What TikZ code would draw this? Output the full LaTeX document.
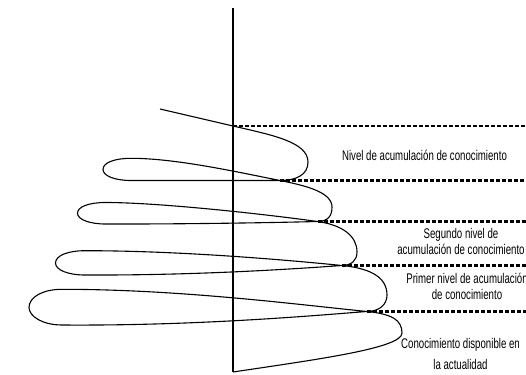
\documentclass[tikz,border=0pt]{standalone}
\usepackage{fontspec}
\setmainfont{Liberation Sans}[FakeStretch=0.69]
\begin{document}
\begin{tikzpicture}[x=1pt,y=-1pt,
  axisline/.style={line width=1.3pt},
  spiral/.style={line width=1.1pt, line join=round},
  levelline/.style={line width=2.2pt, dash pattern=on 4pt off 2pt},
  lbl/.style={inner sep=0pt, align=center, font=\fontsize{14}{16}\selectfont}]
\useasboundingbox (0,0) rectangle (526,374);

% vertical axis
\coordinate (axtop) at (233,8);
\coordinate (axbot) at (233,372);
\draw[axisline] (axtop) -- (axbot);

% start of the spiral and the points where it crosses itself
\coordinate (s)  at (160,109);
\coordinate (p0) at (233,126);
\coordinate (p1) at (280,180.5);
\coordinate (p2) at (317.5,221.5);
\coordinate (p3) at (342,265.5);
\coordinate (p4) at (367,311.5);
\coordinate (edge) at (526,0);

% the descending spiral
\draw[spiral] (s) -- (p0)
  .. controls (272,135) and (308,142) .. (308,162)
  .. controls (308,175) and (296,180.5) .. (p1)
  .. controls (230,180.5) and (180,180.5) .. (131,180.5)
  .. controls (115,180.5) and (103,176) .. (103,169.4)
  .. controls (103,162.5) and (115,158.3) .. (131,158.3)
  .. controls (175,158.3) and (235,171.5) .. (p1)
  .. controls (305,185.5) and (332,192) .. (332,207)
  .. controls (332,216) and (328,221.3) .. (p2)
  .. controls (260,223) and (170,224.2) .. (105.5,224)
  .. controls (89.5,224) and (77.5,219.5) .. (77.5,213.2)
  .. controls (77.5,206.5) and (89.5,202.5) .. (105.5,202.5)
  .. controls (160,202.5) and (267.5,214.5) .. (p2)
  .. controls (342.5,225) and (357,236) .. (357,252)
  .. controls (357,261) and (351,265.3) .. (p3)
  .. controls (300,268.5) and (200,275.5) .. (85,275)
  .. controls (68,275) and (55.5,270) .. (55.5,263)
  .. controls (55.5,255.5) and (68,250.7) .. (85,250.7)
  .. controls (178,250.7) and (282,259.5) .. (p3)
  .. controls (372,268.5) and (387,278) .. (387,295)
  .. controls (387,305) and (379,311.3) .. (p4)
  .. controls (320,315) and (200,326) .. (62,325)
  .. controls (42,325) and (29,316) .. (29,307.5)
  .. controls (29,297.5) and (42,289.3) .. (62,289.3)
  .. controls (180,289.3) and (297,304.5) .. (p4)
  .. controls (392,314) and (402,320) .. (402,333)
  .. controls (402,348) and (320,359) .. (axbot);

% level lines
\foreach \i in {0,...,4}
  \draw[levelline] (p\i) -- (p\i -| edge);

% labels (base anchor sits on the last line)
\node[lbl, anchor=base] (n1) at (424.5,160) {Nivel de acumulación de conocimiento};
\node[lbl, anchor=base] (n2) at (461,254) {Segundo nivel de\\acumulación de conocimiento};
\node[lbl, anchor=base] (n3) at (467,299) {Primer nivel de acumulación\\de conocimiento};
\node[lbl, anchor=base] (n4) at (460.5,369) {Conocimiento disponible en\\[5pt]la actualidad};
\end{tikzpicture}
\end{document}
